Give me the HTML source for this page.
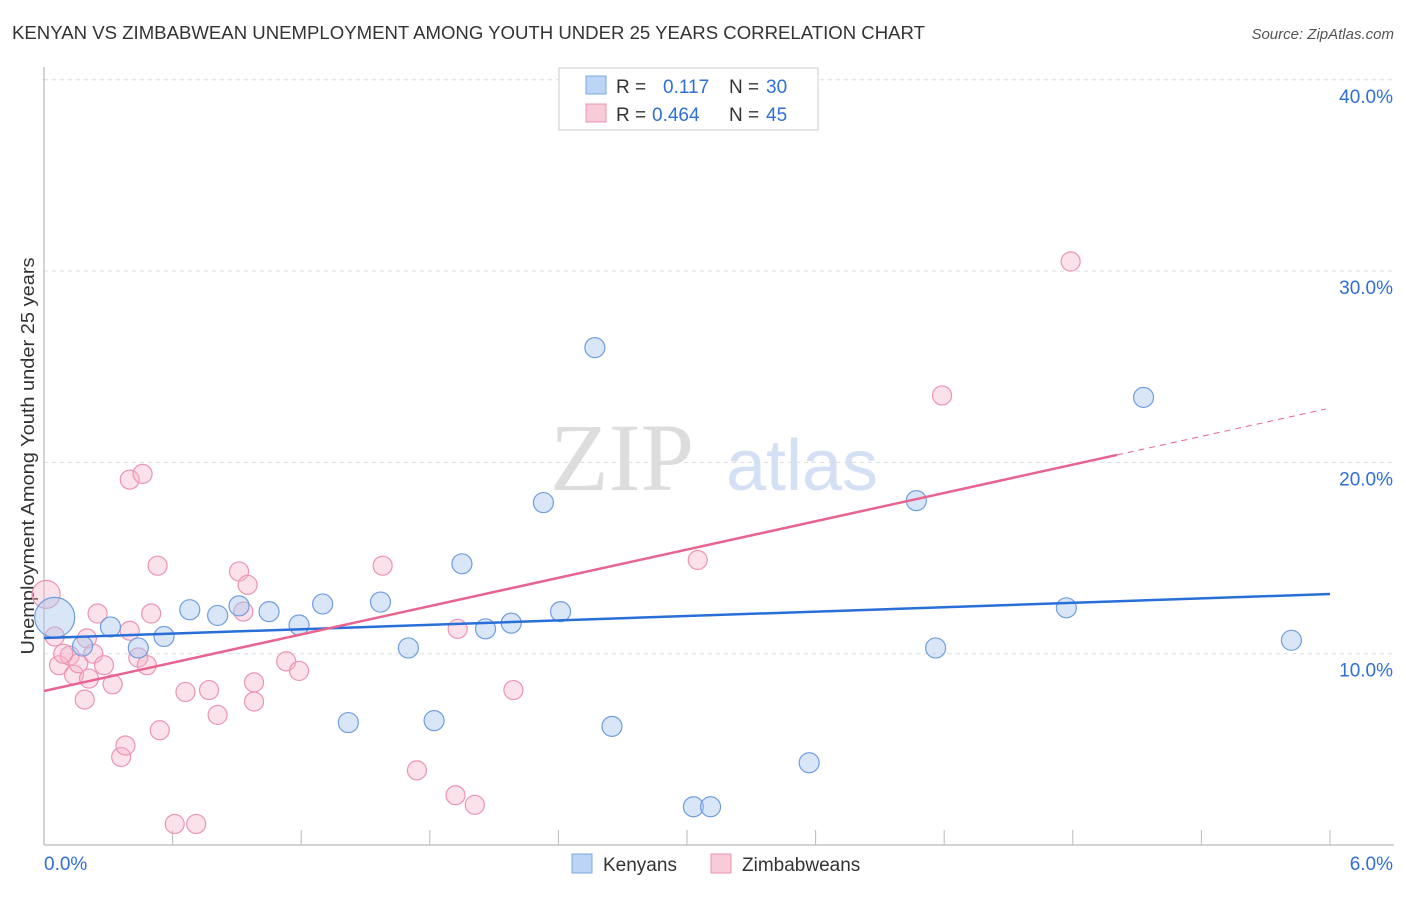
<!DOCTYPE html>
<html><head><meta charset="utf-8"><style>
body{margin:0;background:#fff;font-family:"Liberation Sans",sans-serif}
svg text{font-family:"Liberation Sans",sans-serif}
</style></head><body>
<svg id="c" width="1406" height="892" viewBox="0 0 1406 892">
<text x="12" y="39" font-size="18" fill="#333" textLength="913" lengthAdjust="spacingAndGlyphs">KENYAN VS ZIMBABWEAN UNEMPLOYMENT AMONG YOUTH UNDER 25 YEARS CORRELATION CHART</text>
<text x="1394" y="39" font-size="15" fill="#555" font-style="italic" text-anchor="end">Source: ZipAtlas.com</text>
<text x="622" y="490" font-size="96" fill="#ddd" style="font-family:'Liberation Serif',serif" text-anchor="middle">ZIP</text>
<text x="802" y="490" font-size="72" fill="#d4e0f4" text-anchor="middle">atlas</text>
<text transform="translate(34,456) rotate(-90)" font-size="18" fill="#333" text-anchor="middle" textLength="397" lengthAdjust="spacingAndGlyphs">Unemployment Among Youth under 25 years</text>
<g id="grid"></g><g id="marks"></g>
<g>
<rect x="559" y="68" width="259" height="62" fill="#fff" stroke="#ccc"/>
<rect x="586" y="76" width="20" height="18" fill="#bcd4f5" stroke="#7da7e0"/>
<text x="616" y="93" font-size="19" fill="#333">R = </text><text x="663" y="93" font-size="19" fill="#2f6fd6">0.117</text>
<text x="729" y="93" font-size="19" fill="#333">N = </text><text x="766" y="93" font-size="19" fill="#2f6fd6">30</text>
<rect x="586" y="104" width="20" height="18" fill="#f9cad8" stroke="#ec94b0"/>
<text x="616" y="121" font-size="19" fill="#333">R = </text><text x="652" y="121" font-size="19" fill="#2f6fd6">0.464</text>
<text x="729" y="121" font-size="19" fill="#333">N = </text><text x="766" y="121" font-size="19" fill="#2f6fd6">45</text>
</g>
<g>
<rect x="572" y="854" width="20" height="19" fill="#bcd4f5" stroke="#7da7e0"/>
<text x="603" y="871" font-size="19" fill="#333">Kenyans</text>
<rect x="711" y="854" width="20" height="19" fill="#f9cad8" stroke="#ec94b0"/>
<text x="742" y="871" font-size="19" fill="#333">Zimbabweans</text>
</g>
</svg>
<script>
const xTicks=["0.0%","6.0%"];
const yTicks=[10,20,30,40];
const kenX=[0.05,0.18,0.31,0.44,0.56,0.68,0.81,0.91,1.05,1.19,1.30,1.42,1.57,1.70,1.82,1.95,2.06,2.18,2.33,2.41,2.57,2.65,3.03,3.11,3.57,4.07,4.16,4.77,5.13,5.82];
const kenY=[11.9,10.4,11.4,10.3,10.9,12.3,12.0,12.5,12.2,11.5,12.6,6.4,12.7,10.3,6.5,14.7,11.3,11.6,17.9,12.2,26.0,6.2,2.0,2.0,4.3,18.0,10.3,12.4,23.4,10.7];
const zimX=[0.01,0.05,0.07,0.12,0.14,0.16,0.19,0.20,0.21,0.23,0.25,0.28,0.32,0.36,0.38,0.40,0.40,0.44,0.46,0.48,0.50,0.53,0.54,0.61,0.66,0.71,0.77,0.81,0.91,0.93,0.95,0.98,0.98,1.13,1.19,1.58,1.74,1.92,1.93,2.01,2.19,3.05,4.19,4.79,0.09];
const zimY=[13.1,10.9,9.4,9.9,8.9,9.5,7.6,10.8,8.7,10.0,12.1,9.4,8.4,4.6,5.2,11.2,19.1,9.8,19.4,9.4,12.1,14.6,6.0,1.1,8.0,1.1,8.1,6.8,14.3,12.2,13.6,8.5,7.5,9.6,9.1,14.6,3.9,2.6,11.3,2.1,8.1,14.9,23.5,30.5,10.0];
const kenR=[20,10,10,10,10,10,10,10,10,10,10,10,10,10,10,10,10,10,10,10,10,10,10,10,10,10,10,10,10,10];
const kenTrend=[10.82,13.12];
const zimTrend=[8.05,2.465,5.006];
const NS="http://www.w3.org/2000/svg";
const sx=v=>44+v/6*1286, sy=v=>845-v*19.13;
const grid=document.getElementById('grid'), marks=document.getElementById('marks');
function mk(p,tag,a){const e=document.createElementNS(NS,tag);for(const k in a)e.setAttribute(k,a[k]);p.appendChild(e);return e;}
yTicks.forEach(t=>{
 const l=mk(grid,'line',{x1:44,x2:1394,y1:sy(t),y2:sy(t),stroke:'#ddd','stroke-dasharray':'4,4'});
 
 
 const tx=mk(grid,'text',{x:1393,y:sy(t)+23,'font-size':19,fill:'#2f6fd6','text-anchor':'end'});tx.textContent=t.toFixed(1)+'%';
 
 
});
mk(grid,'line',{x1:44,x2:44,y1:67,y2:845,stroke:'#aaa'});
mk(grid,'line',{x1:44,x2:1394,y1:845,y2:845,stroke:'#aaa'});
for(let i=1;i<=10;i++){mk(grid,'line',{x1:44+i*128.6,x2:44+i*128.6,y1:830,y2:845,stroke:'#bbb'});}
const xl0=mk(grid,'text',{x:44,y:870,'font-size':19,fill:'#2f6fd6'});xl0.textContent=xTicks[0];


const xl1=mk(grid,'text',{x:1393,y:870,'font-size':19,fill:'#2f6fd6','text-anchor':'end'});xl1.textContent=xTicks[1];


zimX.forEach((x,i)=>{const c=mk(marks,'circle',{cx:sx(x),cy:sy(zimY[i]),r:i==0?14:9.5,fill:'rgba(246,180,202,0.4)',stroke:'#ec94b0','stroke-width':1.2});
 
 });
kenX.forEach((x,i)=>{const c=mk(marks,'circle',{cx:sx(x),cy:sy(kenY[i]),r:kenR[i],fill:'rgba(170,200,240,0.45)',stroke:'#6f9de0','stroke-width':1.2});
 
 });
const bl=mk(marks,'line',{x1:sx(0),y1:sy(kenTrend[0]),x2:sx(6),y2:sy(kenTrend[1]),stroke:'#2a6fd8','stroke-width':2.5});


const pl=mk(marks,'line',{x1:sx(0),y1:sy(zimTrend[0]),x2:sx(zimTrend[2]),y2:sy(zimTrend[0]+zimTrend[1]*zimTrend[2]),stroke:'#e8648f','stroke-width':2.5});


const pd=mk(marks,'line',{x1:sx(zimTrend[2]),y1:sy(zimTrend[0]+zimTrend[1]*zimTrend[2]),x2:sx(5.98),y2:sy(zimTrend[0]+zimTrend[1]*5.98),stroke:'#e8648f','stroke-width':1,'stroke-dasharray':'6,5'});


</script>
</body></html>
